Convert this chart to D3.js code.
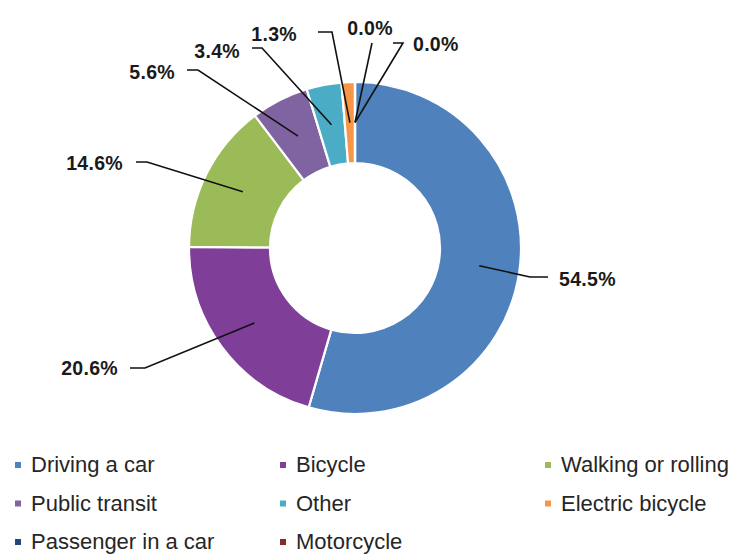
<!DOCTYPE html>
<html>
<head>
<meta charset="utf-8">
<script src="https://cdn.jsdelivr.net/npm/d3@7"></script>
<style>
  html, body { margin: 0; padding: 0; background: #ffffff; }
  svg { display: block; }
</style>
</head>
<body>
<svg id="chart" width="735" height="554"></svg>
<script>
// Commute mode shares (percent)
const modes = ["Driving a car", "Bicycle", "Walking or rolling", "Public transit",
               "Other", "Electric bicycle", "Passenger in a car", "Motorcycle"];
const shares = [54.5, 20.6, 14.6, 5.6, 3.4, 1.3, 0.0, 0.0];
const modeColors = ["#4F81BD", "#7F3F98", "#9BBB59", "#8064A2",
                    "#4BACC6", "#F79646", "#1F497D", "#852C2A"];

// Legend grid: three columns, reading left to right
const legendCols = [0, 1, 2, 0, 1, 2, 0, 1];
const legendRows = [0, 0, 0, 1, 1, 1, 2, 2];

// Where each value label sits and the short horizontal tail of its leader
const labelSpots = [
  { x: 559, y: 279, anchor: "start",  tail: [[530, 277], [548, 277]] },
  { x: 118, y: 368, anchor: "end",    tail: [[145, 368], [130, 368]] },
  { x: 123, y: 163, anchor: "end",    tail: [[147, 162], [136, 162]] },
  { x: 175, y: 72,  anchor: "end",    tail: [[198, 70],  [187, 70]] },
  { x: 240, y: 51,  anchor: "end",    tail: [[262, 48],  [252, 48]] },
  { x: 297, y: 34,  anchor: "end",    tail: [[332, 32],  [318, 32]] },
  { x: 370, y: 28,  anchor: "middle", tail: [[372, 43]] },
  { x: 413, y: 44,  anchor: "start",  tail: [[403, 43],  [393, 43]] }
];

const rows = modes.map((m, i) => ({ mode: m, share: shares[i], color: modeColors[i], i }));

const svg = d3.select("#chart");
const cx = 355, cy = 248, outerR = 166, innerR = 85;

const pie = d3.pie().sort(null).value(d => d.share).startAngle(0).endAngle(2 * Math.PI);
const arc = d3.arc().innerRadius(innerR).outerRadius(outerR);
const arcs = pie(rows);

const ring = svg.append("g").attr("transform", `translate(${cx},${cy})`);
ring.selectAll("path.slice")
  .data(arcs)
  .join("path")
  .attr("class", "slice")
  .attr("d", arc)
  .attr("fill", d => d.data.color)
  .attr("stroke", "#ffffff")
  .attr("stroke-width", 2.2)
  .attr("stroke-linejoin", "miter");

// Leader lines from each slice's centroid to its label
const line = d3.line();
const leaders = svg.append("g");
arcs.forEach((a, k) => {
  const c = arc.centroid(a);
  const spot = labelSpots[k];
  const pts = [[cx + c[0], cy + c[1]], ...spot.tail];
  leaders.append("path")
    .attr("d", line(pts))
    .attr("fill", "none")
    .attr("stroke", "#111111")
    .attr("stroke-width", 1.6);
});

// Value labels
svg.append("g").selectAll("text")
  .data(arcs)
  .join("text")
  .attr("x", (d, k) => labelSpots[k].x)
  .attr("y", (d, k) => labelSpots[k].y + 7)
  .attr("text-anchor", (d, k) => labelSpots[k].anchor)
  .attr("font-family", "'Liberation Sans', Arial, sans-serif")
  .attr("font-weight", "bold")
  .attr("font-size", 19.5)
  .attr("letter-spacing", 0.3)
  .attr("fill", "#1a1a1a")
  .text(d => d3.format(".1f")(d.data.share) + "%");

// Legend
const colX = d3.scaleOrdinal().domain([0, 1, 2]).range([15, 280, 545]);
const rowY = d3.scaleLinear().domain([0, 2]).range([472, 549]);
const legend = svg.append("g");
const items = legend.selectAll("g")
  .data(rows)
  .join("g")
  .attr("transform", d => `translate(${colX(legendCols[d.i])},${rowY(legendRows[d.i])})`);
items.append("rect")
  .attr("x", 0).attr("y", -10)
  .attr("width", 6).attr("height", 6)
  .attr("fill", d => d.color);
items.append("text")
  .attr("x", 16).attr("y", 0)
  .attr("font-family", "'Liberation Sans', Arial, sans-serif")
  .attr("font-size", 22)
  .attr("fill", "#262626")
  .text(d => d.mode);
</script>
</body>
</html>
